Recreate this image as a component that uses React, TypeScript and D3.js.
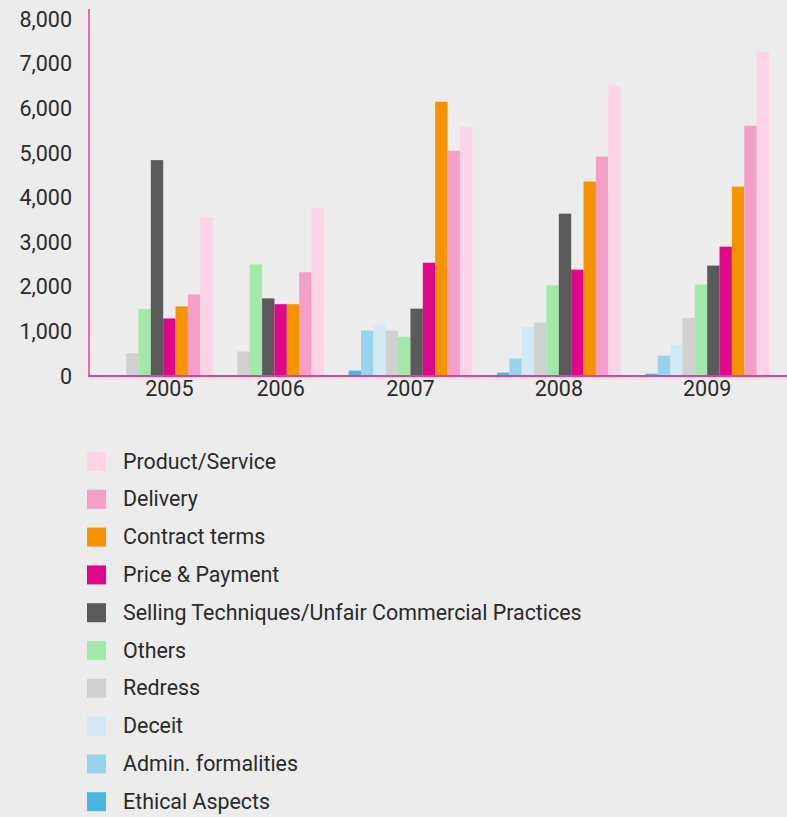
import React from 'react';
import * as d3 from 'd3';

const years = ['2005', '2006', '2007', '2008', '2009'];
const seriesNames = [
  'Ethical Aspects',
  'Admin. formalities',
  'Deceit',
  'Redress',
  'Others',
  'Selling Techniques/Unfair Commercial Practices',
  'Price & Payment',
  'Contract terms',
  'Delivery',
  'Product/Service',
];
const ethical = [null, null, 120, 75, 50];
const admin = [null, null, 1020, 390, 455];
const deceit = [null, null, 1130, 1105, 700];
const redress = [510, 550, 1020, 1195, 1305];
const others = [1500, 2500, 880, 2030, 2050];
const selling = [4840, 1740, 1510, 3640, 2475];
const price = [1290, 1610, 2540, 2385, 2900];
const contract = [1560, 1610, 6150, 4360, 4245];
const delivery = [1830, 2325, 5050, 4920, 5610];
const product = [3560, 3760, 5590, 6510, 7270];
const yTicks = [0, 1000, 2000, 3000, 4000, 5000, 6000, 7000, 8000];

const seriesValues: (number | null)[][] = [ethical, admin, deceit, redress, others, selling, price, contract, delivery, product];
const colors = ['#4ab6e0', '#97d4ec', '#d1e8f5', '#cfd0cf', '#a1e8a9', '#5a5a5a', '#e0078a', '#f59300', '#f39fc8', '#fcd3e7'];

const W = 787;
const H = 817;
const AXIS_COLOR = '#e83c9c';
const TEXT = '#2a2a2a';
const FONT = 'Roboto, "Open Sans", sans-serif';

export default function App() {
  // Build slots: leading padding, each year's present bars, gaps between years
  const slots: string[] = ['pad-0', 'pad-1', 'pad-2'];
  const bars: { key: string; year: string; s: number; v: number }[] = [];
  years.forEach((yr, yi) => {
    seriesValues.forEach((vals, si) => {
      const v = vals[yi];
      if (v !== null && v !== undefined) {
        const key = `${yr}-${si}`;
        slots.push(key);
        bars.push({ key, year: yr, s: si, v });
      }
    });
    if (yi < years.length - 1) {
      slots.push(`gap-${yi}-a`, `gap-${yi}-b`);
    }
  });

  const x = d3.scaleBand<string>().domain(slots).range([89, 769]).paddingInner(0).paddingOuter(0);
  const y = d3.scaleLinear().domain([0, 8000]).range([376, 19.2]);

  const yearCenters = years.map((yr) => {
    const bs = bars.filter((b) => b.year === yr);
    const x0 = d3.min(bs, (b) => x(b.key)!)!;
    const x1 = d3.max(bs, (b) => x(b.key)! + x.bandwidth())!;
    return { yr, cx: (x0 + x1) / 2 };
  });

  const fmt = d3.format(',');
  const legendOrder = d3.range(seriesNames.length).reverse();

  return (
    <svg width={W} height={H} style={{ position: 'absolute', left: 0, top: 0, display: 'block' }} fontFamily={FONT}>
      <rect x={0} y={0} width={W} height={H} fill="#ececec" />
      {bars.map((b) => (
        <rect
          key={b.key}
          x={x(b.key)}
          y={y(b.v)}
          width={x.bandwidth()}
          height={y(0) - y(b.v)}
          fill={colors[b.s]}
        />
      ))}
      {/* axes */}
      <line x1={89} x2={89} y1={9} y2={376} stroke={AXIS_COLOR} strokeWidth={1.5} />
      <line x1={88} x2={W} y1={376} y2={376} stroke={AXIS_COLOR} strokeWidth={2} />
      {yTicks.map((t) => (
        <text key={t} x={72} y={y(t) + 2} textAnchor="end" dominantBaseline="middle" fontSize={21.5} fill={TEXT}>
          {fmt(t)}
        </text>
      ))}
      {yearCenters.map((c) => (
        <text key={c.yr} x={c.cx} y={390} textAnchor="middle" dominantBaseline="middle" fontSize={21.5} fill={TEXT}>
          {c.yr}
        </text>
      ))}
      {/* legend */}
      {legendOrder.map((si, i) => {
        const cy = 461.5 + i * 37.8;
        return (
          <g key={si}>
            <rect x={87} y={cy - 9.5} width={19} height={19} fill={colors[si]} />
            <text x={123} y={cy + 1.5} dominantBaseline="middle" fontSize={21.4} fill={TEXT}>
              {seriesNames[si]}
            </text>
          </g>
        );
      })}
    </svg>
  );
}
